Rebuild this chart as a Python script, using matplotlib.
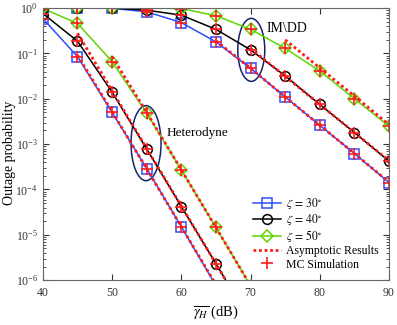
import numpy as np
import matplotlib.pyplot as plt
from matplotlib.patches import Ellipse
from matplotlib.transforms import ScaledTranslation

plt.rcParams['font.family'] = ['Liberation Serif', 'DejaVu Serif']
plt.rcParams['mathtext.fontset'] = 'stix'

# SNR grid (dB)
snr = [40, 45, 50, 55, 60, 65, 70, 75, 80, 85, 90]

# Heterodyne detection, exact results
het_30 = [0.59, 0.085, 0.005, 2.9e-4, 1.5e-5, 7.5e-7]
het_40 = [0.76, 0.187, 0.014, 7.8e-4, 4.2e-5, 2.3e-6, 1.2e-7]
het_50 = [0.98, 0.46, 0.066, 0.0048, 2.7e-4, 1.45e-5, 7.5e-7]

# IM/DD detection, exact results
imdd_30 = [1.0, 1.0, 0.99, 0.83, 0.48, 0.18, 0.047, 0.011, 0.0026, 6.2e-4, 1.42e-4]
imdd_40 = [1.0, 1.0, 1.0, 0.9, 0.70, 0.34, 0.12, 0.032, 0.0075, 0.0018, 4.2e-4]
imdd_50 = [1.0, 1.0, 1.0, 1.0, 0.98, 0.68, 0.34, 0.13, 0.041, 0.010, 0.0025]

# asymptotic results
asy_het_x = [45, 50, 55, 60, 65, 70]
asy_het_30 = [0.092, 0.0052, 2.85e-4, 1.5e-5, 8e-7, 4e-8]
asy_het_40 = [0.28, 0.015, 8e-4, 4.3e-5, 2.3e-6, 1.2e-7]
asy_het_50_x = [50, 55, 60, 65, 70]
asy_het_50 = [0.085, 0.005, 2.7e-4, 1.45e-5, 7.5e-7]
asy_imdd_30_x = [65, 70, 75, 80, 85, 90]
asy_imdd_30 = [0.19, 0.047, 0.011, 0.0026, 6.2e-4, 1.45e-4]
asy_imdd_40_x = [70, 75, 80, 85, 90]
asy_imdd_40 = [0.13, 0.031, 0.0075, 0.0018, 4.3e-4]
asy_imdd_50_x = [75, 80, 85, 90]
asy_imdd_50 = [0.2, 0.048, 0.0115, 0.0027]

blue = '#2f4dff'
green = '#5fd400'
red = '#ff1a1a'
navy = '#14246b'

fig = plt.figure(figsize=(3.97, 3.25), dpi=100)
ax = fig.add_axes([0.108, 0.138, 0.872, 0.837])

mk = dict(markersize=7, markerfacecolor='none', markeredgewidth=1.1, lw=1.1)
for ys, c, m, lab in [(het_30, blue, 's', r'$\zeta\, =\, 30^{\circ}$'),
                      (het_40, 'black', 'o', r'$\zeta\, =\, 40^{\circ}$'),
                      (het_50, green, 'D', r'$\zeta\, =\, 50^{\circ}$')]:
    ax.plot(snr[:len(ys)], ys, color=c, marker=m, label=lab,
            **(mk if m != 'D' else dict(mk, markersize=6)))
for ys, c, m in [(imdd_30, blue, 's'), (imdd_40, 'black', 'o'), (imdd_50, green, 'D')]:
    ax.plot(snr, ys, color=c, marker=m, **(mk if m != 'D' else dict(mk, markersize=6)))

# asymptotic lines
dot = dict(color=red, ls=(0, (1, 1)), lw=2)
ax.plot(asy_het_x, asy_het_30, label='Asymptotic Results', **dot)
ax.plot(asy_het_x, asy_het_40, **dot)
ax.plot(asy_het_50_x, asy_het_50, **dot)
ax.plot(asy_imdd_30_x, asy_imdd_30, **dot)
ax.plot(asy_imdd_40_x, asy_imdd_40, **dot)
ax.plot(asy_imdd_50_x, asy_imdd_50, **dot)

# MC simulation
first = True
for ys in [het_30, het_40, het_50, imdd_30, imdd_40, imdd_50]:
    ax.plot(snr[:len(ys)], ys, '+', color=red, markersize=8, mew=1.2,
            label='MC Simulation' if first else None)
    first = False

# ellipses marking the two groups
for cx, cy, w, h in [(54.9, 1.05e-3, 0.30, 0.75), (70.1, 0.12, 0.27, 0.63)]:
    e = Ellipse((0, 0), w, h, angle=0, fill=False, color=navy, lw=1.1,
                transform=fig.dpi_scale_trans + ScaledTranslation(cx, cy, ax.transData))
    ax.add_patch(e)
ax.text(57.9, 1.75e-3, 'Heterodyne', fontsize=9.5, va='center')
ax.text(72.3, 0.36, r'IM\DD', fontsize=10, va='center')

ax.set_yscale('log')
ax.set_xlim(40, 90)
ax.set_ylim(1e-6, 1)
ax.set_xticks([40, 50, 60, 70, 80, 90])
ax.set_xlabel(r'$\overline{\gamma_H}$ (dB)', fontsize=10.5, labelpad=3)
ax.set_ylabel('Outage probability', fontsize=10)
ax.yaxis.set_label_coords(-0.078, 0.47)
ax.tick_params(which='both', direction='in', top=True, right=True, labelsize=8.5,
               colors='#333333', labelcolor='#333333')
ax.tick_params(axis='x', pad=5)
ax.tick_params(which='major', length=4)
ax.tick_params(which='minor', length=2)
for s in ax.spines.values():
    s.set_color('#666666')
    s.set_linewidth(0.8)

leg = ax.legend(loc='lower right', fontsize=8.5, frameon=False, handlelength=2.4,
                handletextpad=0.4, labelspacing=0.1, borderpad=0, borderaxespad=0,
                bbox_to_anchor=(0.97, 0.035))

plt.savefig('out.png', dpi=100)
